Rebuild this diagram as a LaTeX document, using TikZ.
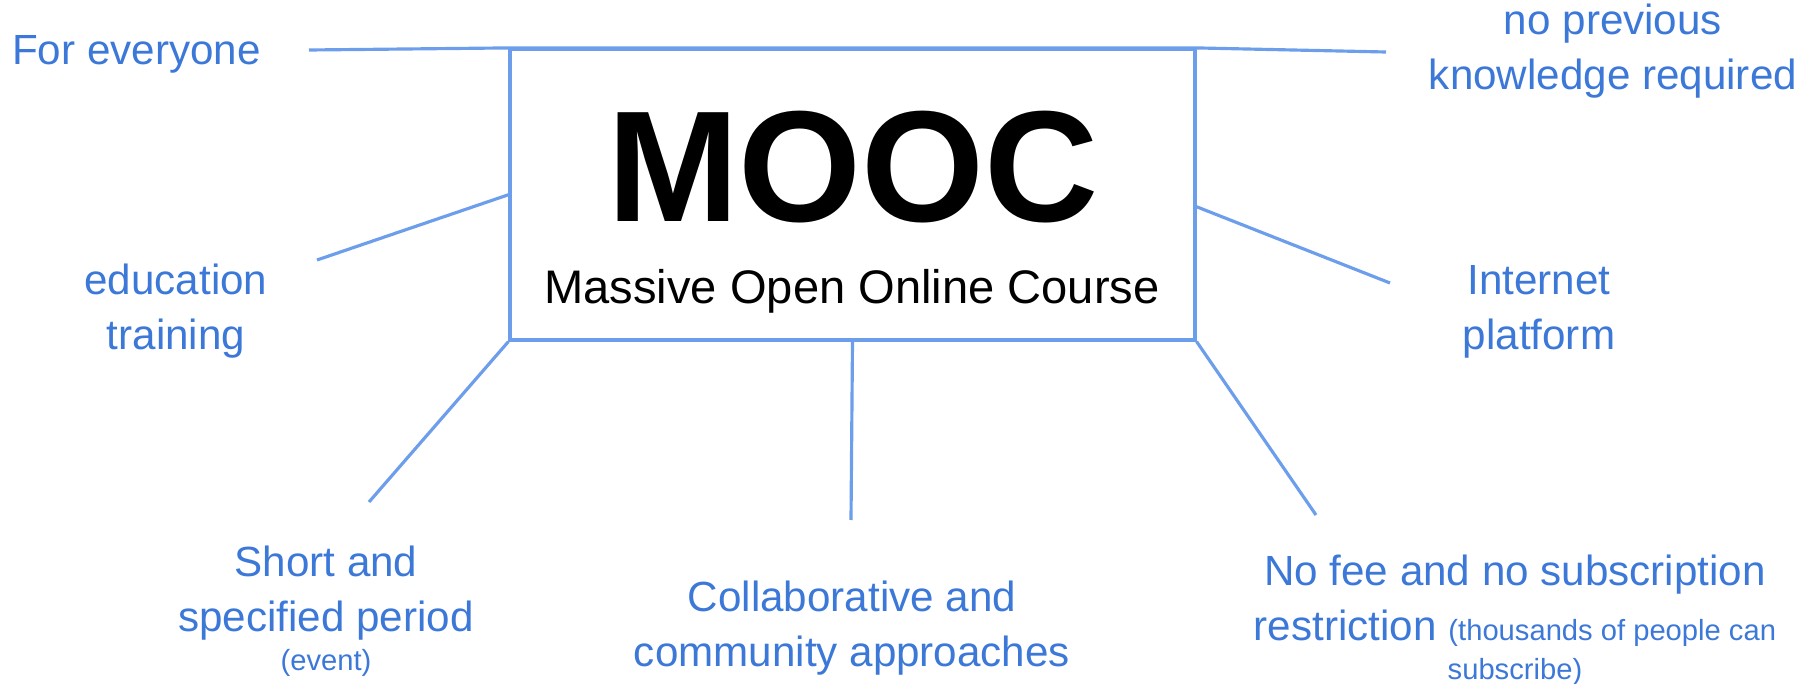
\documentclass[tikz,border=0pt]{standalone}
\usepackage{fontspec}
\setmainfont{Liberation Sans}
\usepackage{tikz}

\definecolor{linkblue}{HTML}{6D9EEB}
\definecolor{textblue}{HTML}{3C78D8}
\tikzset{
  feature/.style={text=textblue, align=center, inner sep=0pt, font=\fontsize{12}{15.5}\selectfont},
  link/.style={draw=linkblue, line width=0.9pt}
}
\newcommand{\smalltext}[1]{{\fontsize{8.3}{10}\selectfont #1}}

\begin{document}
\begin{tikzpicture}
\useasboundingbox (0,0) rectangle (18.06,-6.84);
% central box
\node[link, minimum width=6.85cm, minimum height=2.905cm] (mooc) at (8.525,-1.9475) {};
\node[anchor=base, font=\fontsize{45}{50}\selectfont\bfseries] (title) at (8.53,-2.21) {MOOC};
\node[anchor=base, font=\fontsize{13.4}{16}\selectfont] (subtitle) at (8.52,-3.03) {Massive Open Online Course};
% features (base = last line)
\node[feature, anchor=base west] (every) at (0.115,-0.645) {For everyone};
\node[feature, anchor=base] (prev) at (16.13,-0.89) {no previous\\knowledge required};
\node[feature, anchor=base] (edu) at (1.76,-3.49) {education\\training};
\node[feature, anchor=base] (net) at (15.39,-3.49) {Internet\\platform};
\node[feature, anchor=base] (short) at (3.26,-6.70) {Short and\\specified period\\[-4.5pt]\smalltext{(event)}};
\node[feature, anchor=base] (collab) at (8.52,-6.66) {Collaborative and\\community approaches};
\node[feature, anchor=base] (fee) at (15.15,-6.79) {No fee and no subscription\\restriction \smalltext{(thousands of people can}\\[-4.5pt]\smalltext{subscribe)}};
% free ends of the links
\coordinate (c-every) at (3.09,-0.50);
\coordinate (c-prev) at (13.86,-0.52);
\coordinate (c-edu) at (3.17,-2.60);
\coordinate (c-net) at (13.90,-2.83);
\coordinate (c-short) at (3.69,-5.02);
\coordinate (c-collab) at (8.51,-5.20);
\coordinate (c-fee) at (13.16,-5.15);
% links
\draw[link] (c-every) -- (mooc.north west) -- (mooc.north east) -- (c-prev);
\draw[link] (mooc.west) -- (c-edu);
\draw[link] ([yshift=-1.2mm]mooc.east) -- (c-net);
\draw[link] (mooc.south west) -- (c-short);
\draw[link] (mooc.south) -- (c-collab);
\draw[link] (mooc.south east) -- (c-fee);
\end{tikzpicture}
\end{document}
